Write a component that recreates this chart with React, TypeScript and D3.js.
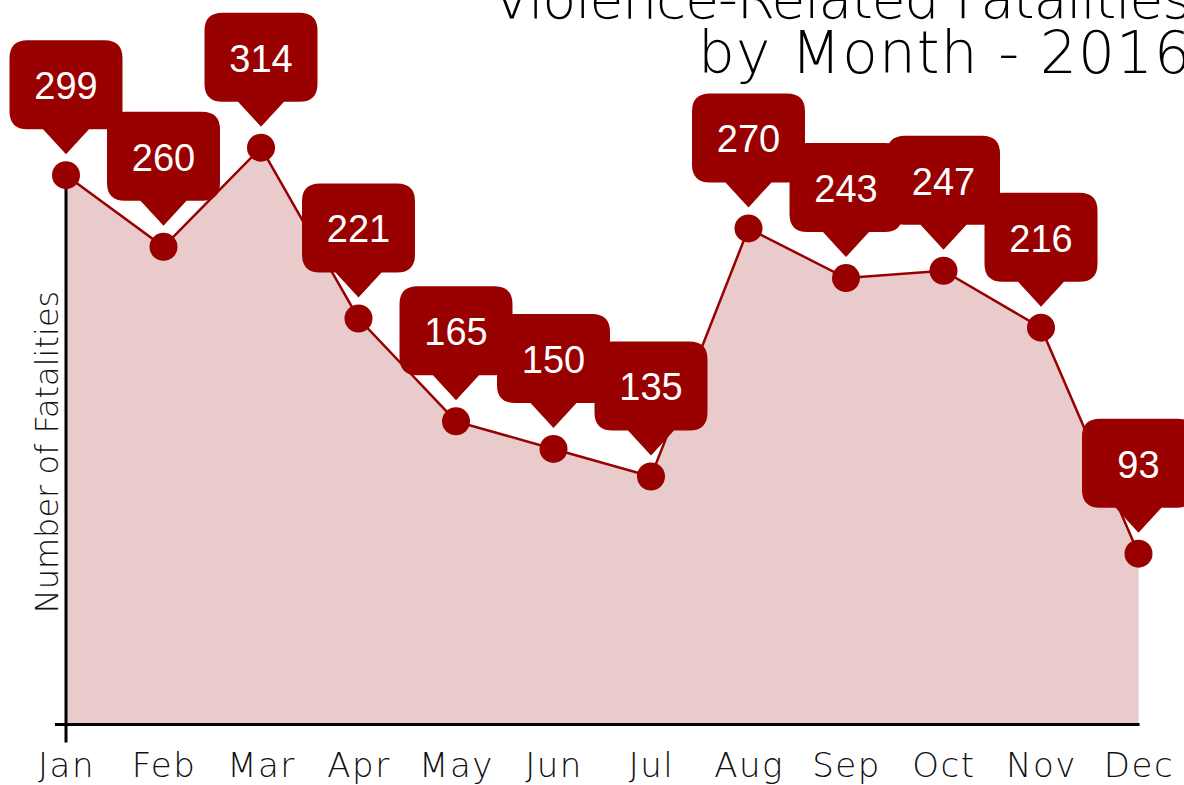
import React, { useEffect, useRef } from "react";
import * as d3 from "d3";

const months = ["Jan", "Feb", "Mar", "Apr", "May", "Jun", "Jul", "Aug", "Sep", "Oct", "Nov", "Dec"];
const fatalities = [299, 260, 314, 221, 165, 150, 135, 270, 243, 247, 216, 93];
const titleLines = ["Violence-Related Fatalities", "by Month - 2016"];
const titleWidths = [698, 493];
const titleSizes = [55, 58];
const yTitle = "Number of Fatalities";

const W = 1184,
  H = 785;
const RED = "#990000";
const PINK = "#e9cbcc";
const LABEL_FONT = "'DejaVu Sans', sans-serif";

const App = () => {
  const svgRef = useRef<SVGSVGElement>(null);

  useEffect(() => {
    document.body.style.margin = "0";
    const svg = d3.select(svgRef.current);
    svg.selectAll("*").remove();

    const x = d3.scalePoint<string>().domain(months).range([66, 1138.5]);
    const y = d3.scaleLinear().domain([0, 350]).range([724.5, 81.5]);

    const pts = months.map((m, i) => ({ m, v: fatalities[i] }));

    // shaded area under the line
    const area = d3
      .area<{ m: string; v: number }>()
      .x((d) => x(d.m)!)
      .y0(y(0))
      .y1((d) => y(d.v));
    svg.append("path").datum(pts).attr("d", area).attr("fill", PINK);

    // axis lines
    const x0 = x(months[0])!;
    const xEnd = x(months[months.length - 1])!;
    svg
      .append("line")
      .attr("x1", x0 - 11)
      .attr("x2", xEnd + 1)
      .attr("y1", y(0))
      .attr("y2", y(0))
      .attr("stroke", "#000")
      .attr("stroke-width", 3);
    svg
      .append("line")
      .attr("x1", x0)
      .attr("x2", x0)
      .attr("y1", y(fatalities[0]))
      .attr("y2", y(0) + 18)
      .attr("stroke", "#000")
      .attr("stroke-width", 3);

    // month labels
    const xAxis = d3.axisBottom(x).tickSize(0);
    const gx = svg.append("g").attr("transform", `translate(0,${y(0)})`).call(xAxis);
    gx.select(".domain").remove();
    gx.selectAll("text")
      .attr("y", 52.5)
      .attr("dy", 0)
      .attr("fill", "#111")
      .style("font-family", LABEL_FONT)
      .style("font-weight", 200)
      .style("font-size", "34px")
      .style("letter-spacing", "1.5px");

    // y title
    svg
      .append("text")
      .attr("transform", `translate(58,452) rotate(-90)`)
      .attr("text-anchor", "middle")
      .style("font-family", LABEL_FONT)
      .style("font-weight", 200)
      .style("font-size", "32px")
      .attr("fill", "#111")
      .text(yTitle);

    // line + dots
    const line = d3
      .line<{ m: string; v: number }>()
      .x((d) => x(d.m)!)
      .y((d) => y(d.v));
    svg
      .append("path")
      .datum(pts)
      .attr("d", line)
      .attr("fill", "none")
      .attr("stroke", RED)
      .attr("stroke-width", 2.5);
    svg
      .selectAll("circle.dot")
      .data(pts)
      .enter()
      .append("circle")
      .attr("class", "dot")
      .attr("cx", (d) => x(d.m)!)
      .attr("cy", (d) => y(d.v))
      .attr("r", 14)
      .attr("fill", RED);

    // callouts
    const bw = 113,
      bTop = 135,
      bBot = 46,
      r = 18,
      tipY = 21,
      tw = 23;
    const callout = (cx: number, cy: number) => {
      const l = cx - bw / 2,
        rt = cx + bw / 2,
        t = cy - bTop,
        b = cy - bBot;
      return [
        `M${l + r},${t}`,
        `H${rt - r}`,
        `Q${rt},${t} ${rt},${t + r}`,
        `V${b - r}`,
        `Q${rt},${b} ${rt - r},${b}`,
        `H${cx + tw}`,
        `L${cx},${cy - tipY}`,
        `L${cx - tw},${b}`,
        `H${l + r}`,
        `Q${l},${b} ${l},${b - r}`,
        `V${t + r}`,
        `Q${l},${t} ${l + r},${t}`,
        "Z",
      ].join(" ");
    };
    const cg = svg
      .selectAll("g.callout")
      .data(pts)
      .enter()
      .append("g")
      .attr("class", "callout");
    cg.append("path")
      .attr("d", (d) => callout(x(d.m)!, y(d.v)))
      .attr("fill", RED);
    cg.append("text")
      .attr("x", (d) => x(d.m)!)
      .attr("y", (d) => y(d.v) - 76)
      .attr("text-anchor", "middle")
      .attr("fill", "#fff")
      .style("font-family", "'Liberation Sans', Arial, sans-serif")
      .style("font-size", "38px")
      .text((d) => d.v);

    // title
    svg
      .selectAll("text.title")
      .data(titleLines)
      .enter()
      .append("text")
      .attr("class", "title")
      .attr("text-anchor", "end")
      .attr("fill", "#000")
      .style("font-family", LABEL_FONT)
      .style("font-weight", 200)
      .style("font-size", (_d, i) => `${titleSizes[i]}px`)
      .attr("x", 1191)
      .attr("y", (_d, i) => 18 + i * 55)
      .attr("textLength", (_d, i) => titleWidths[i])
      .attr("lengthAdjust", "spacing")
      .text((d) => d);
  }, []);

  return <svg ref={svgRef} width={W} height={H} style={{ display: "block", background: "#fff" }}></svg>;
};

export default App;
